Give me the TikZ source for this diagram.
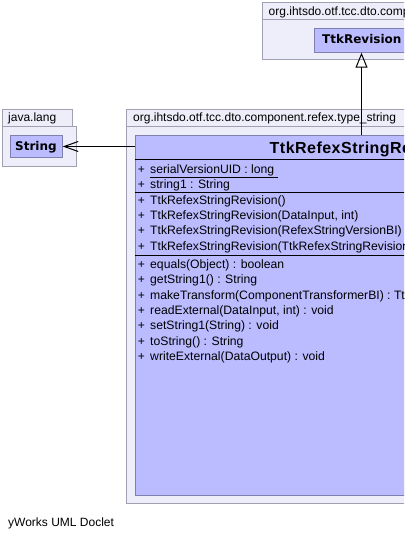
\documentclass[tikz,border=0pt]{standalone}
\usepackage{fontspec}
\setmainfont{Liberation Sans}
\newfontfamily\dvfont{DejaVu Sans}
\newfontfamily\titlefont[LetterSpace=3]{Liberation Sans}
\usetikzlibrary{arrows.meta}
\definecolor{pkgfill}{RGB}{238,238,250}
\definecolor{pkgdraw}{RGB}{160,160,178}
\definecolor{clsfill}{RGB}{187,187,255}
\definecolor{clsdraw}{RGB}{128,128,176}
\tikzset{
  pkgbox/.style={draw=pkgdraw, fill=pkgfill, line width=1pt, inner sep=0pt, anchor=north west},
  clsbox/.style={draw=clsdraw, fill=clsfill, line width=1pt, inner sep=0pt, anchor=north west},
  pkglabel/.style={anchor=base west, inner sep=0pt, font=\fontsize{12}{14}\selectfont},
  member/.style={anchor=base west, inner sep=0pt, font=\fontsize{12.2}{14}\selectfont},
  plus/.style={anchor=base, inner sep=0pt, font=\fontsize{12}{14}\selectfont},
  smallname/.style={anchor=base west, inner sep=0pt, font=\dvfont\bfseries\fontsize{12}{14}\selectfont},
  sep/.style={line width=1pt, draw=black},
  inherit/.style={line width=1pt, -{Triangle[open, length=15pt, width=12pt, line width=1pt]}},
  depend/.style={line width=1pt, -{Straight Barb[length=14pt, width=10pt, line width=1pt]}}
}
\begin{document}
\begin{tikzpicture}[x=1pt,y=-1pt]
\useasboundingbox (0,0) rectangle (404,540);
\clip (0,0) rectangle (404,540);
% top package
\node[pkgbox, minimum width=170pt, minimum height=17pt] (ptoptab) at (262,2.3) {};
\node[pkgbox, minimum width=170pt, minimum height=40.3pt] (ptop) at (262,19) {};
\node[pkglabel] (ptoplbl) at (268.5,15.5) {org.ihtsdo.otf.tcc.dto.component};
\node[clsbox, minimum width=94pt, minimum height=24pt] (rev) at (314,27.7) {};
\node[smallname] (revlbl) at (322,43.9) {TtkRevision};
% java.lang package
\node[pkgbox, minimum width=69.4pt, minimum height=17pt] (pjtab) at (2.3,109) {};
\node[pkgbox, minimum width=73.4pt, minimum height=39.7pt] (pj) at (2.3,126) {};
\node[pkglabel] (pjlbl) at (8,121.5) {java.lang};
\node[clsbox, minimum width=51.7pt, minimum height=22pt] (str) at (10,135) {};
\node[smallname] (strlbl) at (15,150.5) {String};
% main package
\node[pkgbox, minimum width=320pt, minimum height=17pt] (pmtab) at (126,109) {};
\node[pkgbox, minimum width=320pt, minimum height=376.7pt] (pm) at (126,126) {};
\node[pkglabel] (pmlbl) at (133,121.5) {org.ihtsdo.otf.tcc.dto.component.refex.type\_string};
\node[clsbox, minimum width=300pt, minimum height=359.7pt] (cls) at (134.7,135) {};
\node[anchor=base west, inner sep=0pt, font=\titlefont\bfseries\fontsize{16}{18}\selectfont] (clsname) at (269.5,153.3) {TtkRefexStringRevision};
\draw[sep] (134.7,160) -- (440,160);
\draw[sep] (134.7,192.3) -- (440,192.3);
\draw[sep] (134.7,255.7) -- (440,255.7);
% members
\foreach \y/\t [count=\i] in {
  173.4/{\underline{serialVersionUID : long\ }},
  188.6/{string1 : String},
  204.2/{TtkRefexStringRevision()},
  219.5/{TtkRefexStringRevision(DataInput, int)},
  234.8/{TtkRefexStringRevision(RefexStringVersionBI)},
  250.1/{TtkRefexStringRevision(TtkRefexStringRevision)},
  268/{equals(Object) : boolean},
  283.6/{getString1() : String},
  299/{makeTransform(ComponentTransformerBI) : TtkRefexStringRevision},
  314.4/{readExternal(DataInput, int) : void},
  329.8/{setString1(String) : void},
  345.2/{toString() : String},
  360.6/{writeExternal(DataOutput) : void}} {
  \node[plus] (p\i) at (141.5,\y) {+};
  \node[member] (m\i) at (150,\y) {\t};
}
% connectors
\draw[inherit] (rev.south |- cls.north) -- (rev.south);
\draw[depend] (cls.west |- str.east) -- (str.east);
% footer
\node[pkglabel] (footer) at (8,526.8) {yWorks UML Doclet};
\end{tikzpicture}
\end{document}
